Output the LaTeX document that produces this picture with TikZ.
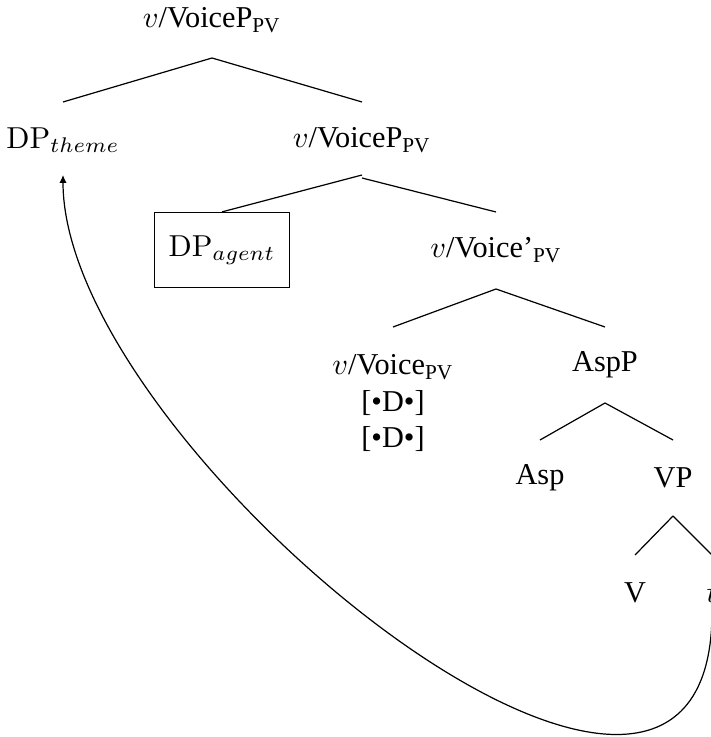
\documentclass[tikz,border=0pt]{standalone}
\usepackage{fontspec}
\usepackage{amsmath}
\usetikzlibrary{calc, arrows.meta}
\newfontfamily\libfont{Liberation Serif}
\newcommand{\pv}{\textsubscript{PV}}

\begin{document}
\begin{tikzpicture}[x=0.33pt, y=-0.33pt,
    lbl/.style={inner sep=0pt, font=\libfont},
    dpbox/.style={draw, minimum width=44.5pt, minimum height=24.75pt}]
  \useasboundingbox (0,0) rectangle (711,737);

  % Labels of the tree
  \node[lbl] (root) at (212,20) {$v$/VoiceP\pv};
  \node[lbl] (theme) at (63,140) {$\mathrm{DP}_{theme}$};
  \node[lbl] (vpb) at (362,140) {$v$/VoiceP\pv};
  \node[dpbox] (agent) at (222,250) {$\mathrm{DP}_{agent}$};
  \node[lbl] (vbar) at (496,250) {$v$/Voice’\pv};
  \node[lbl, align=center, anchor=north] (voice) at (393,354) {$v$/Voice\pv\\{}[•D•]\\{}[•D•]};
  \node[lbl] (aspp) at (605,365) {AspP};
  \node[lbl] (asp) at (540,478) {Asp};
  \node[lbl] (vp) at (673,478) {VP};
  \node[lbl] (verb) at (635,593) {V};
  \node[lbl] (trace) at (712,593) {$t$};

  % Branches
  \foreach \a/\b in {root/theme, root/vpb, vpb/vbar, aspp/asp, aspp/vp, vp/verb, vp/trace} {
    \draw ($(\a)+(0,38)$) -- ($(\b)+(0,-38)$);
  }
  \draw ($(vpb)+(0,35)$) -- (agent.north);
  \draw ($(vbar)+(0,39)$) -- ($(voice.north)+(0,-27)$);
  \draw ($(vbar)+(0,39)$) -- ($(aspp)+(0,-38)$);

  % Movement of the theme
  \draw[-{Latex[length=2.6pt, width=2.4pt]}] ($(trace)+(0,19)$) .. controls +(0,360) and +(0,275) .. ($(theme)+(0,35)$);
\end{tikzpicture}
\end{document}
